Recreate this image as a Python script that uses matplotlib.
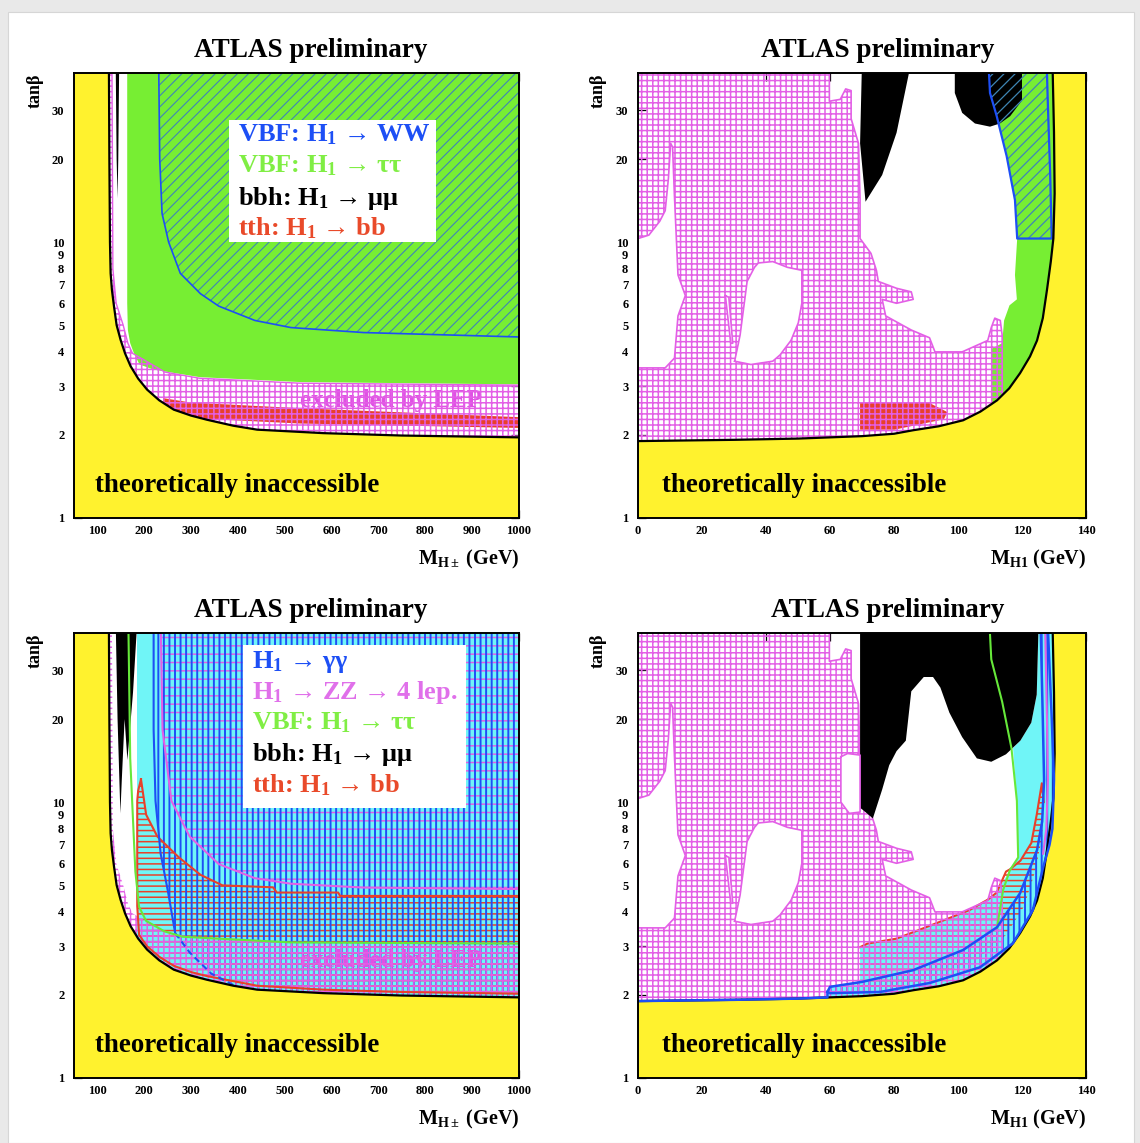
import numpy as np
import matplotlib
matplotlib.use("Agg")
import matplotlib as mpl
import matplotlib.pyplot as plt
from matplotlib.patches import Polygon, Rectangle
from matplotlib.ticker import NullLocator

plt.rcParams['font.family'] = ['Liberation Serif', 'DejaVu Serif']
plt.rcParams['font.weight'] = 'bold'
plt.rcParams['mathtext.fontset'] = 'custom'
plt.rcParams['mathtext.rm'] = 'Liberation Serif:bold'
plt.rcParams['mathtext.it'] = 'Liberation Serif:bold:italic'
plt.rcParams['mathtext.bf'] = 'Liberation Serif:bold'

# ---------------- axes / ticks ----------------
YTICKS = [1, 2, 3, 4, 5, 6, 7, 8, 9, 10, 20, 30]
YTICK_LABELS = ['1', '2', '3', '4', '5', '6', '7', '8', '9', '10', '20', '30']
XTICKS_HPM = [100, 200, 300, 400, 500, 600, 700, 800, 900, 1000]
XTICKS_H1 = [0, 20, 40, 60, 80, 100, 120, 140]
TANB_RANGE = (1, 41)
MHPM_RANGE = (50, 1000)
MH1_RANGE = (0, 140)

# ---------------- theoretical boundaries ----------------
BOUND_HPM = [(124.6, 45), (124.6, 41), (125.5, 20), (126.8, 10), (128.2, 7.7), (131, 6.7),
             (135.3, 5.86), (141, 5.0), (149.5, 4.42), (159, 3.95), (170.8, 3.55), (187, 3.2),
             (206, 2.92), (232, 2.67), (263, 2.47), (300, 2.35), (334, 2.27), (390, 2.16),
             (441, 2.09), (583, 2.03), (750, 1.99), (1000, 1.96)]
BOUND_H1 = [(0, 1.9), (30, 1.92), (50, 1.94), (70, 1.98), (80, 2.02), (86, 2.08), (94, 2.15),
            (101.6, 2.26), (107, 2.43), (112.2, 2.67), (116, 2.95), (119.4, 3.35), (122.5, 3.85),
            (124.7, 4.4), (126.5, 5.3), (127.8, 6.7), (129, 8.5), (129.8, 10.3), (130.2, 15),
            (130, 25), (129.6, 41), (129.6, 45)]

# ---------------- LEP exclusion ----------------
LEP_HPM = [(124, 45), (131, 45), (133, 8), (140, 6.0), (155, 5.0), (165, 4.3), (175, 3.95),
           (201, 3.73), (244, 3.38), (318, 3.21), (532, 3.08), (1000, 3.03), (1000, 1.5), (124, 1.5)]
LEP_H1 = [(0, 45), (59.8, 45), (59.8, 32.4), (63.2, 32.9), (64.9, 35.9), (66.6, 35.4), (66.6, 28),
          (68.9, 22.8), (69.4, 14.2), (69.4, 10.3), (72.8, 9.1), (74.5, 7.9), (75.1, 7.2),
          (80.8, 6.8), (85.4, 6.6), (86.0, 6.2), (80.8, 6.0), (76.3, 6.2), (77.4, 5.4),
          (85.4, 4.8), (91.1, 4.5), (92.8, 4.0), (101.3, 4.0), (109.3, 4.4), (110.4, 4.9),
          (111.5, 5.3), (113.2, 5.2), (113.8, 4.6), (113.8, 1.5), (0, 1.5)]
LEP_H1_HOLE_A = [(0, 10.3), (3.4, 10.6), (6.8, 11.9), (8.5, 13), (9.5, 17), (10.2, 22.8),
                 (10.8, 22.1), (11.4, 14.6), (12.5, 7.6), (14.8, 6.4), (12.5, 5.4), (11.4, 3.8),
                 (8.5, 3.5), (0, 3.5)]
LEP_H1_HOLE_B = [(30.2, 3.7), (31.9, 4.6), (34.1, 7.2), (36.4, 8.1), (37.6, 8.4), (42.1, 8.5),
                 (46.7, 8.1), (51.2, 7.9), (51.2, 6.0), (50.1, 5.1), (47.8, 4.4), (44.4, 3.9),
                 (42.1, 3.7), (35.3, 3.6)]
LEP_H1_HOLE_C = [(27.3, 6.4), (28.4, 6.3), (29.6, 4.3), (29.0, 4.3)]
LEP_H1_NOTCH_BR = [(63.4, 14.6), (65.5, 15.0), (69.4, 14.8), (69.4, 9.2), (66, 9.1), (63.4, 10)]

# ---------------- top-left (M_H+-) ----------------
TL_GREEN_TAUTAU = [(163.6, 45), (163.6, 6), (165, 4.8), (170, 4.3), (178, 3.95), (190, 3.6),
                   (220, 3.45), (318, 3.24), (532, 3.11), (1000, 3.05), (1000, 45)]
TL_WW = [(231, 45), (231, 41), (233, 20), (238, 12.7), (252, 10), (277, 7.7), (320, 6.5),
         (359, 5.86), (436, 5.2), (513, 4.9), (668, 4.7), (1000, 4.53), (1000, 45)]
TL_RED_BB = [(240, 2.72), (300, 2.62), (532, 2.5), (1000, 2.32), (1000, 2.12), (532, 2.2),
             (300, 2.3), (240, 2.4)]
TL_BLACK_MUMU = [(139, 45), (146.5, 45), (144.5, 20), (143, 14.4), (141, 20)]

# ---------------- top-right (M_H1) ----------------
TR_GREEN_TAUTAU = [(109.5, 45), (110, 34.7), (112.1, 28.6), (115.2, 20.5), (117.8, 14.2),
                   (118.5, 10.3), (117.8, 7.6), (118.4, 6.2), (116.1, 5.9), (114.4, 5.2),
                   (113.8, 4.3), (110.4, 4.1), (110.4, 2.5), (135, 2.5), (135, 45)]
TR_WW = [(109.5, 45), (110, 34.7), (112.1, 28.6), (115.2, 20.5), (117.8, 14.2), (118.5, 10.3),
         (129.3, 10.3), (128.8, 17.7), (128.1, 31.1), (127.7, 45)]
TR_RED_BB = [(69.4, 2.61), (91.1, 2.61), (96.7, 2.42), (95.6, 2.28), (80.2, 2.09), (69.4, 2.09)]
TR_BLACK_MUMU_A = [(70.0, 45), (69.4, 22.8), (71.1, 14.0), (76.3, 17.5), (80.8, 24.9), (85.4, 45)]
TR_BLACK_MUMU_B = [(99, 45), (99, 34.7), (101.3, 29.4), (105.3, 26.9), (110, 26.2), (113.1, 26.9),
                   (116.3, 28.6), (120, 32.6), (120, 45)]

# ---------------- bottom-left (M_H+-) ----------------
BL_CYAN_GG = [(184, 45), (184, 1.5), (1000, 1.5), (1000, 45)]
BL_GG = [(220, 45), (220, 18.3), (224, 10.1), (235, 6.5), (251, 4.7), (266, 3.35), (297, 2.85),
         (343, 2.39), (400, 2.13), (450, 1.5), (1000, 1.5), (1000, 45)]
BL_GG_SOLID = [(220, 45), (220, 18.3), (224, 10.1), (235, 6.5), (251, 4.7), (266, 3.35)]
BL_GG_DASHED = [(266, 3.35), (297, 2.85), (343, 2.39), (400, 2.13)]
BL_ZZ = [(235, 45), (239, 18.3), (258, 10.1), (297, 7.5), (359, 5.96), (436, 5.3), (513, 5.06),
         (668, 4.9), (1000, 4.84), (1000, 45)]
BL_RED_BB = [(193, 12.1), (187, 11), (185, 10.1), (185, 4.2), (189, 3.3), (206, 3.0), (232, 2.75),
             (263, 2.55), (300, 2.42), (334, 2.34), (441, 2.16), (583, 2.09), (750, 2.05),
             (1000, 2.02), (1000, 4.57), (618, 4.57), (614, 4.7), (483, 4.7), (475, 4.91),
             (367, 4.99), (320, 5.45), (274, 6.3), (228, 7.5), (204, 9.0)]
BL_GREEN_TAUTAU = [(166, 45), (170, 14.4), (181, 5.6), (189, 4.17), (204, 3.71), (243, 3.4),
                   (282, 3.25), (513, 3.1), (1000, 3.07)]
BL_BLACK_MUMU = [(139, 45), (185, 45), (176, 25), (164, 14.2), (158, 20), (152, 12), (149, 9.1),
                 (143, 20)]

# ---------------- bottom-right (M_H1) ----------------
BR_BLACK_MUMU = [(69.4, 45), (69.4, 9.55), (73.4, 8.73), (76.3, 11.1), (78.5, 13.6), (80.8, 15.3),
                 (83.7, 16.7), (85.4, 25.2), (89.3, 28.4), (92.2, 28.4), (94.5, 26), (97.3, 21.1),
                 (101.3, 17.2), (105.9, 14.4), (110.4, 14.0), (115, 14.9), (119.5, 16.7),
                 (122.9, 19.4), (124.6, 24.5), (125.2, 45)]
BR_CYAN_GG = [(125.2, 45), (124.6, 24.5), (122.9, 19.4), (119.5, 16.7), (117.2, 15.7),
              (118.4, 10.1), (118.8, 6.3), (116.2, 5.66), (112.1, 4.7), (109.3, 4.43),
              (103.6, 4.06), (92.2, 3.6), (80.8, 3.2), (71.7, 3.07), (69.4, 2.98), (69.4, 2.23),
              (60, 2.14), (59.2, 2.1), (59.2, 1.5), (135, 1.5), (135, 45)]
BR_GG = [(59.2, 2.05), (60, 2.14), (70, 2.23), (86, 2.46), (101.6, 2.91), (112.2, 3.52),
         (119.4, 4.68), (124.7, 6.7), (126.3, 8.5), (126.9, 12), (126.5, 20), (125.8, 45),
         (128, 45), (129.3, 20), (130, 12), (129.5, 8), (128.6, 7.0), (126.6, 5.8),
         (123.4, 4.06), (117.2, 3.08), (106.9, 2.52), (91.2, 2.21), (75.6, 2.05), (60, 2.03)]
BR_GG_BASE = [(0, 1.9), (30, 1.92), (50, 1.94), (59.2, 1.96), (59.2, 2.05)]
BR_RED_BB = [(69.4, 2.98), (71.7, 3.07), (80.8, 3.2), (92.2, 3.6), (103.6, 4.06), (109.3, 4.43),
             (112.1, 4.7), (115, 5.6), (116.2, 5.7), (119.5, 6.13), (122.9, 7.1), (124.6, 9.0),
             (126.2, 11.7), (126.8, 10.0), (126.3, 7.5), (124.1, 5.6), (120.6, 4.18), (115, 3.3),
             (105.9, 2.69), (92.2, 2.32), (80.8, 2.12), (69.4, 2.06)]
BR_GREEN_TAUTAU = [(109.8, 45), (110.4, 32.9), (113.8, 23.1), (116.7, 15.7), (118.4, 10.1),
                   (118.8, 6.3), (116.2, 5.66), (114.1, 4.8), (112.2, 3.5)]
BR_ZZ = [(127.2, 45), (127.8, 20), (128.1, 12), (127.6, 8), (126.6, 6.5)]

LEGEND_TOP = ['VBF: H$_1$ → WW', 'VBF: H$_1$ → ττ', 'bbh: H$_1$ → μμ', 'tth: H$_1$ → bb']
LEGEND_BOTTOM = ['H$_1$ → γγ', 'H$_1$ → ZZ → 4 lep.', 'VBF: H$_1$ → ττ', 'bbh: H$_1$ → μμ',
                 'tth: H$_1$ → bb']

# ---------------- colours ----------------
YELLOW = '#fff22e'
GREEN = '#77ee33'
MAG = '#e35fe6'
CYAN = '#70f5f7'
BLUE = '#1d4ff5'
RED = '#e9402a'
WWH = '#3f86b5'
C_LEG_TOP = [BLUE, '#80ee44', 'black', '#e94a2a']
C_LEG_BOT = [BLUE, '#e070ea', '#80ee44', 'black', '#e94a2a']


def P(pts):
    return np.asarray(pts, dtype=float)


def fill(ax, pts, color, z):
    ax.add_patch(Polygon(P(pts), closed=True, facecolor=color, edgecolor='none', lw=0, zorder=z))


def hatch(ax, pts, color, pattern, hlw, z):
    with mpl.rc_context({'hatch.linewidth': hlw}):
        p = Polygon(P(pts), closed=True, facecolor='none', edgecolor=color, lw=0,
                    hatch=pattern, zorder=z)
        if hasattr(p, 'set_hatch_linewidth'):
            p.set_hatch_linewidth(hlw)
        ax.add_patch(p)


def line(ax, pts, color, lw, z, ls='-', closed=False):
    a = P(pts)
    if closed:
        a = np.vstack([a, a[:1]])
    ax.plot(a[:, 0], a[:, 1], color=color, lw=lw, ls=ls, zorder=z,
            solid_joinstyle='round', dash_capstyle='butt')


def hole(ax, pts, z=3.6):
    fill(ax, pts, 'white', z)
    line(ax, pts, MAG, 1.2, z + 0.01, closed=True)


def yellow(ax, bound, right):
    b = P(bound)
    if right:
        pts = np.vstack([b, [[140, 45], [140, 1], [0, 1]]])
    else:
        pts = np.vstack([[[50, 1], [50, 45]], b, [[1000, 1]]])
    fill(ax, pts, YELLOW, 5)
    ax.plot(b[:, 0], b[:, 1], color='black', lw=1.6, zorder=5.1)


def setup(ax, right, title_x):
    ax.set_yscale('log')
    ax.set_ylim(*TANB_RANGE)
    if right:
        ax.set_xlim(*MH1_RANGE)
        ax.set_xticks(XTICKS_H1, labels=[str(v) for v in XTICKS_H1])
        xlab = r'M$_{\mathrm{H1}}$ (GeV)'
    else:
        ax.set_xlim(*MHPM_RANGE)
        ax.set_xticks(XTICKS_HPM, labels=[str(v) for v in XTICKS_HPM])
        xlab = r'M$_{\mathrm{H\pm}}$ (GeV)'
    ax.set_yticks(YTICKS, labels=YTICK_LABELS)
    ax.yaxis.set_minor_locator(NullLocator())
    ax.tick_params(which='both', direction='in', top=True, right=True, length=6, width=0.9,
                   labelsize=9)
    ax.tick_params(axis='y', pad=7)
    ax.tick_params(axis='x', pad=5)
    ax.xaxis.set_zorder(1.5)
    ax.yaxis.set_zorder(1.5)
    for s in ax.spines.values():
        s.set_zorder(10)
        s.set_linewidth(1.4)
    ax.text(title_x, 1.05, 'ATLAS preliminary', transform=ax.transAxes, ha='center',
            va='center', fontsize=19.5)
    ax.text(1.0, -0.094, xlab, transform=ax.transAxes, ha='right', va='center', fontsize=14.5)
    ax.text(-0.088, 1.0, 'tanβ', transform=ax.transAxes, rotation=90, ha='center', va='top',
            fontsize=13)
    ax.text(0.047 if not right else 0.054, 0.072, 'theoretically inaccessible',
            transform=ax.transAxes, ha='left', va='center', fontsize=19.4, zorder=6)


def legend(ax, box, lines, colors, ys, x0):
    ax.add_patch(Rectangle(box[:2], box[2], box[3], transform=ax.transAxes, facecolor='white',
                           edgecolor='none', zorder=6))
    for s, c, y in zip(lines, colors, ys):
        ax.text(x0, y, s, transform=ax.transAxes, color=c, fontsize=19, ha='left', va='center',
                zorder=7)


def lep_text(ax):
    ax.text(0.712, 0.265, 'excluded by LEP', transform=ax.transAxes, ha='center', va='center',
            color='#e050e4', fontsize=18, zorder=3.4)


W, H = 1140, 1143
fig = plt.figure(figsize=(11.4, 11.43), dpi=100)
fig.patch.set_facecolor('#e9e9e9')
fig.add_artist(Rectangle((8 / W, 0), 1126 / W, 1131 / H, transform=fig.transFigure,
                         facecolor='white', edgecolor='#d6d6d6', lw=0.8, zorder=0))


def add_ax(l, t, r, b):
    return fig.add_axes([l / W, 1 - b / H, (r - l) / W, (b - t) / H])


ax_tl = add_ax(74, 73, 519, 518)
ax_tr = add_ax(638, 73, 1086, 518)
ax_bl = add_ax(74, 633, 519, 1078)
ax_br = add_ax(638, 633, 1086, 1078)

# ---- top-left ----
ax = ax_tl
setup(ax, False, 0.533)
fill(ax, TL_GREEN_TAUTAU, GREEN, 2)
fill(ax, TL_RED_BB, RED, 2)
lep_text(ax)
hatch(ax, LEP_HPM, MAG, '+++', 1.1, 3.5)
line(ax, LEP_HPM[:12], MAG, 1.0, 3.52)
fill(ax, TL_BLACK_MUMU, 'black', 3.55)
hatch(ax, TL_WW, WWH, '///', 0.8, 3.7)
line(ax, TL_WW[1:-1], BLUE, 1.2, 3.8)
yellow(ax, BOUND_HPM, False)
legend(ax, (0.348, 0.62, 0.465, 0.274), LEGEND_TOP, C_LEG_TOP, [0.861, 0.791, 0.719, 0.652], 0.369)

# ---- top-right ----
ax = ax_tr
setup(ax, True, 0.534)
fill(ax, TR_GREEN_TAUTAU, GREEN, 2)
fill(ax, TR_RED_BB, RED, 2)
hatch(ax, LEP_H1, MAG, '+++', 1.1, 3.5)
line(ax, LEP_H1[1:29], MAG, 1.2, 3.52)
hole(ax, LEP_H1_HOLE_A)
hole(ax, LEP_H1_HOLE_B)
hole(ax, LEP_H1_HOLE_C)
fill(ax, TR_BLACK_MUMU_A, 'black', 3.55)
fill(ax, TR_BLACK_MUMU_B, 'black', 3.55)
hatch(ax, TR_WW, WWH, '///', 0.9, 3.7)
line(ax, TR_WW, BLUE, 1.6, 3.8, closed=False)
yellow(ax, BOUND_H1, True)

# ---- bottom-left ----
ax = ax_bl
setup(ax, False, 0.533)
fill(ax, BL_CYAN_GG, CYAN, 2)
hatch(ax, BL_ZZ, MAG, '--', 1.1, 3.0)
hatch(ax, BL_RED_BB, RED, '---', 1.1, 3.1)
hatch(ax, BL_GG, BLUE, '|||', 1.4, 3.2)
lep_text(ax)
hatch(ax, LEP_HPM, MAG, '+++', 1.1, 3.5)
fill(ax, BL_BLACK_MUMU, 'black', 3.55)
line(ax, BL_ZZ[:-1], MAG, 1.5, 4)
line(ax, BL_RED_BB, RED, 1.5, 4, closed=True)
line(ax, BL_GG_SOLID, BLUE, 1.5, 4.1)
line(ax, BL_GG_DASHED, BLUE, 1.5, 4.1, ls=(0, (3, 2)))
line(ax, BL_GREEN_TAUTAU, '#66e83a', 1.5, 4.2)
yellow(ax, BOUND_HPM, False)
legend(ax, (0.380, 0.607, 0.501, 0.366), LEGEND_BOTTOM, C_LEG_BOT,
       [0.935, 0.867, 0.798, 0.728, 0.658], 0.40)

# ---- bottom-right ----
ax = ax_br
setup(ax, True, 0.558)
fill(ax, BR_CYAN_GG, CYAN, 2)
hatch(ax, BR_RED_BB, RED, '---', 1.1, 3.1)
hatch(ax, BR_GG, BLUE, '|||', 1.4, 3.2)
hatch(ax, LEP_H1, MAG, '+++', 1.1, 3.5)
line(ax, LEP_H1[1:29], MAG, 1.2, 3.52)
hole(ax, LEP_H1_HOLE_A)
hole(ax, LEP_H1_HOLE_B)
hole(ax, LEP_H1_HOLE_C)
hole(ax, LEP_H1_NOTCH_BR)
fill(ax, BR_BLACK_MUMU, 'black', 3.55)
line(ax, BR_RED_BB[:14], RED, 1.5, 3.3)
line(ax, BR_GREEN_TAUTAU, '#66e83a', 1.5, 4.2)
line(ax, BR_ZZ, MAG, 1.5, 4.1)
yellow(ax, BOUND_H1, True)
line(ax, BR_GG, BLUE, 1.8, 5.2, closed=True)
line(ax, BR_GG_BASE, BLUE, 1.8, 5.2)

fig.savefig('out.png', dpi=100, facecolor=fig.get_facecolor())
